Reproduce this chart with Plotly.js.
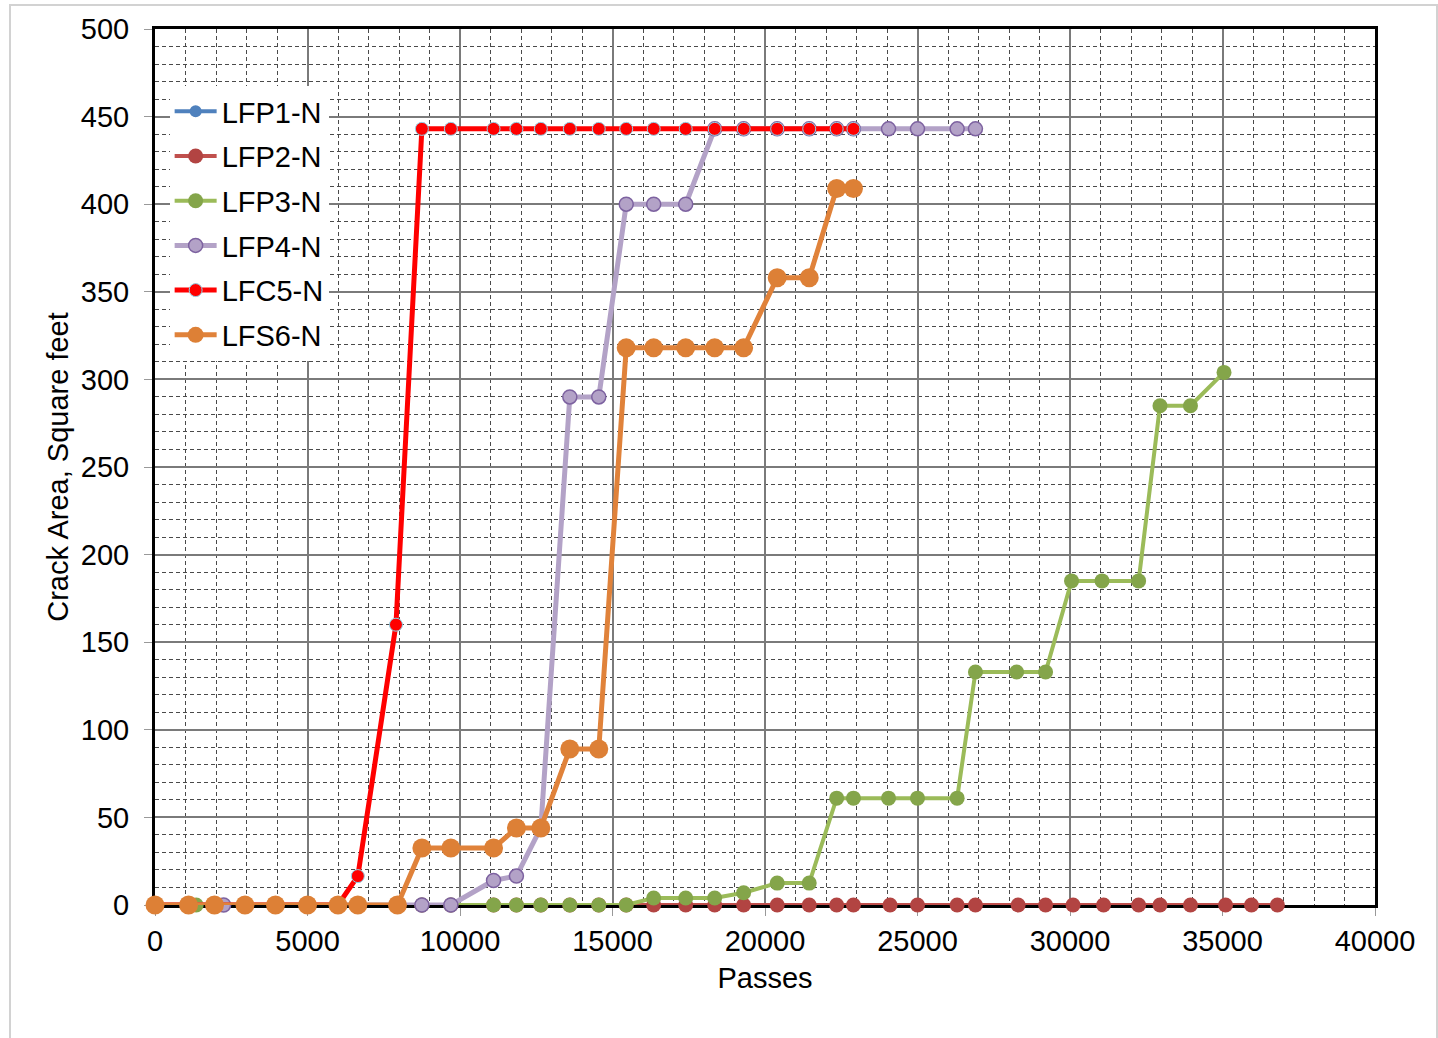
<!DOCTYPE html>
<html>
<head>
<meta charset="utf-8">
<script src="https://cdn.plot.ly/plotly-3.0.1.min.js"></script>
<style>
  html, body { margin: 0; padding: 0; background: #fff; }
  #chart { width: 1438px; height: 1038px; }
  #frame { position: absolute; left: 9px; top: 4px; width: 1425px; height: 1100px;
           border: 2px solid #d2d2d2; pointer-events: none; }
</style>
</head>
<body>
<div id="chart"></div>
<div id="frame"></div>
<script>
// ---- data ----
const xLFP1 = [0, 1100, 1950, 2950, 3950, 5000, 6000, 6650, 7950, 8750, 9700, 11100, 11850, 12650, 13600, 14550, 15450, 16350, 17400, 18350, 19300, 20400, 21450, 22350, 22900, 24100, 25000, 26300, 26900, 28300, 29200, 30100, 31100, 32250, 32950, 33950, 35100, 35950, 36800];
const yLFP1 = [0, 0, 0, 0, 0, 0, 0, 0, 0, 0, 0, 0, 0, 0, 0, 0, 0, 0, 0, 0, 0, 0, 0, 0, 0, 0, 0, 0, 0, 0, 0, 0, 0, 0, 0, 0, 0, 0, 0];

const xLFP2 = [0, 1100, 1950, 2950, 3950, 5000, 6000, 6650, 7950, 8750, 9700, 11100, 11850, 12650, 13600, 14550, 15450, 16350, 17400, 18350, 19300, 20400, 21450, 22350, 22900, 24100, 25000, 26300, 26900, 28300, 29200, 30100, 31100, 32250, 32950, 33950, 35100, 35950, 36800];
const yLFP2 = [0, 0, 0, 0, 0, 0, 0, 0, 0, 0, 0, 0, 0, 0, 0, 0, 0, 0, 0, 0, 0, 0, 0, 0, 0, 0, 0, 0, 0, 0, 0, 0, 0, 0, 0, 0, 0, 0, 0];

const xLFP3 = [0, 1350, 1950, 2950, 3950, 5000, 6000, 6650, 7950, 8750, 9700, 11100, 11850, 12650, 13600, 14550, 15450, 16350, 17400, 18350, 19300, 20400, 21450, 22350, 22900, 24050, 25000, 26300, 26900, 28250, 29200, 30050, 31050, 32250, 32950, 33950, 35050];
const yLFP3 = [0, 0, 0, 0, 0, 0, 0, 0, 0, 0, 0, 0, 0, 0, 0, 0, 0, 4, 4, 4, 7, 12.5, 12.5, 61, 61, 61, 61, 61, 133, 133, 133, 185, 185, 185, 285, 285, 304];

const xLFP4 = [0, 1100, 2250, 2950, 3950, 5000, 6000, 6650, 7950, 8750, 9700, 11100, 11850, 12650, 13600, 14550, 15450, 16350, 17400, 18350, 19300, 20400, 21450, 22350, 22900, 24050, 25000, 26300, 26900];
const yLFP4 = [0, 0, 0, 0, 0, 0, 0, 0, 0, 0, 0, 14, 16.5, 44, 290, 290, 400, 400, 400, 443, 443, 443, 443, 443, 443, 443, 443, 443, 443];

const xLFC5 = [0, 1100, 1950, 2950, 3950, 5000, 6000, 6650, 7900, 8750, 9700, 11100, 11850, 12650, 13600, 14550, 15450, 16350, 17400, 18350, 19300, 20400, 21450, 22350, 22900];
const yLFC5 = [0, 0, 0, 0, 0, 0, 0, 16.5, 160, 443, 443, 443, 443, 443, 443, 443, 443, 443, 443, 443, 443, 443, 443, 443, 443];

const xLFS6 = [0, 1100, 1950, 2950, 3950, 5000, 6000, 6650, 7950, 8750, 9700, 11100, 11850, 12650, 13600, 14550, 15450, 16350, 17400, 18350, 19300, 20400, 21450, 22350, 22900];
const yLFS6 = [0, 0, 0, 0, 0, 0, 0, 0, 0, 32.5, 32.5, 32.5, 44, 44, 89, 89, 318, 318, 318, 318, 318, 358, 358, 409, 409];

const seriesNames = ['LFP1-N', 'LFP2-N', 'LFP3-N', 'LFP4-N', 'LFC5-N', 'LFS6-N'];
const xTickVals = [0, 5000, 10000, 15000, 20000, 25000, 30000, 35000, 40000];
const yTickVals = [0, 50, 100, 150, 200, 250, 300, 350, 400, 450, 500];

// ---- traces ----
function tr(name, x, y, lineColor, lineW, mSize, mColor, mLine, mLineW) {
  return {
    type: 'scatter', mode: 'lines+markers', name: name, x: x, y: y,
    legendgroup: name, cliponaxis: false,
    line: { color: lineColor, width: lineW },
    marker: { symbol: 'circle', size: mSize, color: mColor, line: { color: mLine, width: mLineW } },
    hoverinfo: 'x+y+name'
  };
}
const data = [
  tr(seriesNames[0], xLFP1, yLFP1, '#4F81BD', 4, 12, '#4F81BD', '#4F81BD', 0),
  tr(seriesNames[1], xLFP2, yLFP2, '#C0504D', 4, 15, '#B24442', '#B24442', 0),
  tr(seriesNames[2], xLFP3, yLFP3, '#9BBB59', 4, 15, '#84A54A', '#84A54A', 0),
  tr(seriesNames[3], xLFP4, yLFP4, '#B3A2C7', 5, 14, '#B3A2C7', '#7D62A0', 1.5),
  tr(seriesNames[4], xLFC5, yLFC5, '#FF0000', 5, 13, '#FF0000', '#8FD3E8', 1),
  tr(seriesNames[5], xLFS6, yLFS6, '#E0823A', 5, 19, '#DD8036', '#DD8036', 0)
];

const fontFam = 'Liberation Sans, Arial, sans-serif';
const fs = 29;
const layout = {
  width: 1438, height: 1038,
  margin: { l: 155, r: 63, t: 29, b: 133 },
  paper_bgcolor: '#ffffff', plot_bgcolor: '#ffffff',
  font: { family: fontFam, size: fs, color: '#000' },
  showlegend: true,
  legend: {
    x: 0.012, y: 0.935, xanchor: 'left', yanchor: 'top',
    bgcolor: '#ffffff', borderwidth: 0,
    font: { family: fontFam, size: fs, color: '#000' },
    itemwidth: 42, tracegroupgap: 4,
    itemclick: false, itemdoubleclick: false
  },
  xaxis: {
    range: [0, 40000], tickvals: xTickVals, ticktext: xTickVals.map(String),
    showline: true, linecolor: '#000', linewidth: 3, mirror: true,
    layer: 'below traces',
    ticks: 'outside', ticklen: 8, tickcolor: '#999', tickwidth: 1,
    ticklabelstandoff: 0,
    tickfont: { family: fontFam, size: fs, color: '#000' },
    showgrid: true, gridcolor: '#7a7a7a', gridwidth: 1.5,
    minor: { dtick: 1000, showgrid: true, gridcolor: '#4a4a4a', gridwidth: 1, griddash: '4px,3px' },
    zeroline: false,
    title: { text: 'Passes', font: { family: fontFam, size: fs, color: '#000' }, standoff: 12 },
    automargin: false
  },
  yaxis: {
    range: [0, 500], tickvals: yTickVals, ticktext: yTickVals.map(String),
    showline: true, linecolor: '#000', linewidth: 3, mirror: true,
    layer: 'below traces',
    ticks: 'outside', ticklen: 8, tickcolor: '#999', tickwidth: 1,
    ticklabelstandoff: 9,
    tickfont: { family: fontFam, size: fs, color: '#000' },
    showgrid: true, gridcolor: '#7a7a7a', gridwidth: 1.5,
    minor: { dtick: 10, showgrid: true, gridcolor: '#4a4a4a', gridwidth: 1, griddash: '4px,3px' },
    zeroline: false,
    title: { text: 'Crack Area, Square feet', font: { family: fontFam, size: fs, color: '#000' }, standoff: 4 },
    automargin: false
  }
};

Plotly.newPlot('chart', data, layout, { displayModeBar: false, staticPlot: false });
</script>
</body>
</html>
